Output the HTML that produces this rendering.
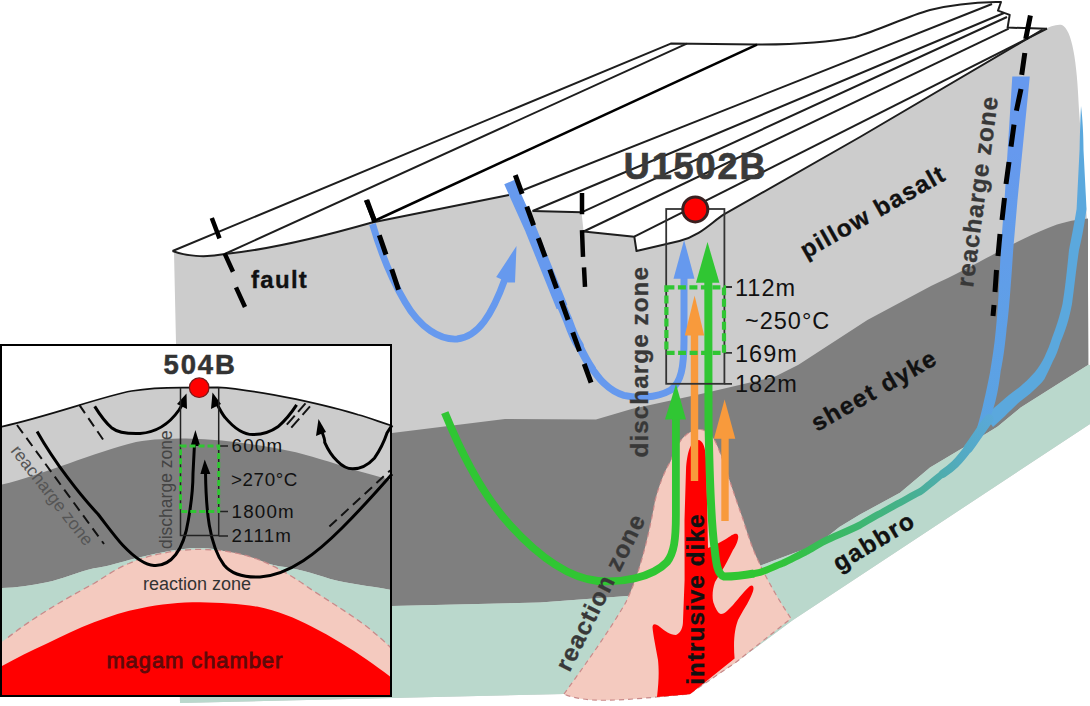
<!DOCTYPE html>
<html><head><meta charset="utf-8">
<style>
html,body{margin:0;padding:0;background:#fff;width:1090px;height:706px;overflow:hidden;}
svg{display:block;}
text{font-family:"Liberation Sans",sans-serif;}
</style></head><body>
<svg width="1090" height="706" viewBox="0 0 1090 706">
<defs>
<linearGradient id="gb" gradientUnits="userSpaceOnUse" x1="1000" y1="408" x2="770" y2="568">
<stop offset="0" stop-color="#5ba8dd"/>
<stop offset="0.2" stop-color="#54aac4"/>
<stop offset="0.45" stop-color="#47b08f"/>
<stop offset="0.75" stop-color="#3ab962"/>
<stop offset="1" stop-color="#30c633"/>
</linearGradient>
<linearGradient id="gi" gradientUnits="userSpaceOnUse" x1="0" y1="150" x2="0" y2="420">
<stop offset="0" stop-color="#6699ee"/>
<stop offset="1" stop-color="#5aa3e2"/>
</linearGradient>
</defs>

<!-- ===== MAIN BLOCK ===== -->
<!-- light gray body -->
<path id="body" fill="#cccccc" d="M174,252 C190,256 210,257 225,254 C255,251 300,243 372,222.5 L509,195 L520,211 L581.5,212.3 L583.6,231.5 L634.3,236.7 L636.5,251 L679.4,241 C700,236 712,222 723.5,214.7 L860,137 L1042.6,29.7 C1050,27 1056,24 1062,25 C1072,30 1077,60 1079,110 L1087,220 L1090,424 L793,620 L735,663 L689,694 L657,697 L592,700 L564,694 L392,698 L180,703 L176,343 Z"/>
<!-- dark gray -->
<path fill="#7f7f7f" d="M176,452 L392,433 L505,419 L596,419.6 L631.6,409 L703,393.4 L774.7,376.7 L798.5,364.8 L867.4,320 L931,286 C955,275 975,264 997.6,252.3 C1015,243 1030,235 1048,228 C1060,223 1072,220 1088,218.5 L1088,365 L1065,379.5 L1020.7,407.5 L997.7,426.6 L964.4,447 L930,467.5 L900,492.8 L860,514.5 L839.4,527 L816.7,545.1 L794,553 L762,565 L700,590 L627,596 L540,602.4 L392,606 L178,612 Z"/>
<!-- teal -->
<path fill="#bad8cc" d="M178,612 L392,606 L540,602.4 L627,596 L700,590 L762,565 L794,553 L816.7,545.1 L839.4,527 L860,514.5 L900,492.8 L930,467.5 L964.4,447 L997.7,426.6 L1020.7,407.5 L1065,379.5 L1088,365 L1090,365 L1090,424 L793,620 L735,663 L689,694 L657,697 L592,700 L564,694 L392,698 L180,703 Z"/>

<!-- pink reaction zone -->
<path fill="#f4cabf" stroke="#c98a8a" stroke-width="1.2" stroke-dasharray="5,4" d="M564,694 C585,665 610,630 626,602 C639,575 648,540 655,501 C659,485 665,470 670.5,461.4 C674,452 677,445 682,439 C688,432 694,429.5 700.8,429.5 C706,430 710,434 713.2,438 C717,444 719,450 721,455.2 C728,475 736,500 742.9,519 C748,535 752,548 758.8,562 C768,582 780,602 791,618.5 L735,663 L689,694 L657,697 C635,699 610,701 592,700 C580,699 570,697 564,694 Z"/>

<!-- red dike -->
<path fill="#ff0000" d="M698,440 C703,440 705.5,448 706,458 L707,500 L708,548 C714,546 720,542 726,539 C731,536 734,533 737,534 C740,536 737,544 733,550 C729,558 725,566 721,572 L715,582 C712,590 712,600 714,604 C716,610 719,614 721,614 C725,614 729,609 733,605 C739,598 745,590 750,586 C753,584 755,587 752,594 C749,602 742,612 738,620 C735,628 733,640 734.6,658.6 L690,694.3 L657,697 C659,680 659,670 658,660 C656,648 653,635 652.5,627 C653,623 656,624 660,627 C665,631 670,635 676,635 C681,633 683,627 683,621 L684.6,580 L684.5,520 L686,470 C687,452 691,440 698,440 Z"/>

<!-- ===== TOP SURFACE LINES ===== -->
<g fill="none" stroke="#1e1e1e" stroke-width="2" stroke-linejoin="round">
<path d="M172.6,251 L670.8,43.6 L757,44.6 C800,44.5 830,42 855,37 C880,30 905,17 930,10 C950,5 975,2.5 996,2 L1001,2 L998,10.6 L1009.7,14.9 L1007.6,27.6 L1047,28.7"/>
<path d="M172.6,251 C185,256 205,258 225,254 C255,251 300,243 372,222.5 L509,195"/>
<path d="M224.7,254 L686.8,43.6"/>
<path d="M372,222 L757,44.6" stroke="#000" stroke-width="2.5"/>
<path d="M523.3,190 L992,4"/>
<path d="M532.6,211 L1004,13"/>
<path d="M532.6,211 L581.5,212.3"/>
<path d="M581.5,212.3 L1007,17"/>
<path d="M583.6,231.5 L1008.7,28.7"/>
<path d="M583.6,231.5 L634.3,236.7 L636.5,251 L679.4,241 C700,236 712,222 723.5,214.7 L860,137 L1042.6,29.7"/>
<path d="M634.3,236.7 L1047,28.7"/>
</g>

<!-- fault dashes (black) -->
<g stroke="#000" stroke-width="4.5" fill="none">
<path d="M211.8,218 L219.5,238.4 M224.6,253.4 L233,271.8 M236,287.4 L245,307"/>
<path d="M366,200 L374.8,221.4"/>
<path d="M582,193 L582,214.3 M582,230.2 L583,256.8 M584,267.4 L585,286.9"/>
</g>

<!-- blue U arrow 1 -->
<g fill="none" stroke="#6699ee" stroke-width="6.8">
<path d="M372.5,224 C380,250 392,280 405,302 C420,328 440,340 457,339 C478,337 492,315 505,279"/>
</g>
<path fill="#6699ee" d="M516.5,245.9 L496.2,277.1 L500.6,279 L508,282.5 L515,282.5 Z"/>
<g stroke="#000" stroke-width="5" fill="none">
<path d="M366.8,200.2 L374.7,221.7 M379.3,235.3 L386,254.6 M391.7,269.3 L398.5,289.7"/>
</g>
<!-- blue long curve 2 -->
<path fill="none" stroke="#6699ee" stroke-width="11.5" d="M509.5,182 L531,230 L562,307"/><path fill="none" stroke="#6699ee" stroke-width="9.5" stroke-linecap="round" d="M560,302 L567.7,320 C572,332 575,340 579.1,345.5"/><path fill="none" stroke="#6699ee" stroke-width="8" stroke-linecap="round" d="M579.1,345.5 C584,356 588,363 591.9,368.5"/>
<g fill="none" stroke="#6699ee" stroke-width="7">
<path d="M591.9,368.5 C596,374 600,380 604.6,383.8 C610,389 616,393 623.8,395.3 C635,398 655,399 671,390 C681,382 684,368 684,340 L684,272"/>
</g>
<path fill="#6699ee" d="M684.1,239.9 L673.5,278.8 L694.5,278.8 Z"/>
<g stroke="#000" stroke-width="5" fill="none" stroke-dasharray="20,13.5">
<path d="M515.3,175.1 L593.5,389.4"/>
</g>
<!-- right recharge blue bands -->
<path fill="#5ba8dd" d="M1081,106 C1082.5,118 1083.5,135 1083.5,150 L1086.5,209 C1084,228 1081,242 1079,250 C1076,270 1074,290 1072,304 C1069,320 1065,332 1060.5,342 C1058,350 1056,356 1053,361 C1050,368 1047,374 1044.5,379 C1041,384 1037,387 1033.5,390.5 C1029,395 1024,398 1019.5,402 C1014,407 1009,412 1005,416 L993,427 L985,416 C989,412 992,410 995,407 C1000,403 1004,399 1009,395 C1014,391 1019,388 1023,384 C1028,380 1031,376 1035,372 C1039,367 1042,362 1044.5,357 C1047,351 1050,345 1052,338 C1056,328 1060,315 1062.5,304 C1065,290 1067,270 1069,250 C1071,240 1074,225 1076.6,209 L1079.6,149 C1080,130 1080.5,115 1081,106 Z"/>
<path fill="url(#gi)" d="M1012.3,76.4 L1029.8,76.4 L1017.5,200 L1013.2,250 C1010,300 1008,320 1006.5,330 C1004,355 1002,365 1000.5,372.5 C999,385 997,395 995.5,401 C993,410 991,416 989,421 L977,428 C980,418 982,410 984,400.8 C986,392 988,383 990,372.5 C992,360 994.5,345 995.8,330 C998,310 999.5,280 1000.7,250 L1004.5,200 Z"/>
<path fill="none" stroke="#30c633" stroke-width="8" stroke-linejoin="round" d="M708.3,272 L708.5,420 C709.5,480 711.5,525 714.5,548 C716,562 717,574 724,576.5 C735,576.5 746,575 754,573.5"/>
<path fill="none" stroke="url(#gb)" stroke-width="7" stroke-linejoin="round" d="M752,574 C756,573 758,573 760,572.4 C768,570 775,566 782.7,563.3 C790,560 797,556 805.4,552 C813,548 820,543 828,539.5 C838,535 850,530 860,525 C867,521 873,517 880,513.6 C887,510 893,506 900,502.7 C907,499 913,495 920,491.8 C923,490 926,487 930,484 C934,481 938,477 942.7,473.9 C947,471 951,468 955.5,463.7 C960,459 964,454 968.2,448.4 C974,440 980,430 987,422"/>
<path fill="none" stroke="url(#gb)" stroke-width="9.5" stroke-linecap="round" d="M989,419 C982,428 976,438 968.2,448.4"/>
<path fill="none" stroke="url(#gb)" stroke-width="8.3" stroke-linecap="round" d="M968.2,448.4 C964,454 960,459 955.5,463.7 C951,468 947,471 942.7,473.9"/>
<!-- recharge fault dashes -->
<g stroke="#000" stroke-width="5" fill="none">
<path d="M1030.4,15.6 L1025.7,39 M1024.8,53 L1021.7,74.8 M1021,88.9 L1016.4,110.7 M1014,124.7 L1011,146.6 M1009,162 L1006,184 M1004.5,198 L1002,220 M1000,234 L998,256 M996.5,270 L995,292 M994,305 L993,316"/>
</g>

<!-- green paths -->
<g fill="none" stroke="#30c633" stroke-width="7.8" stroke-linecap="butt">
<path d="M444.8,412.6 C460,450 480,492 510,525 C540,558 570,578 597.7,581 C620,583 652,578 667,562 C674,553 675.9,540 675.9,515 L675.9,415"/>
</g>
<path fill="#30c633" d="M676,384 L665,419.6 L686,419.6 Z"/>
<path fill="#30c633" d="M707.5,242 L696,282.7 L719.4,282.7 Z"/>
<!-- orange arrows -->
<g fill="none" stroke="#f89a3c" stroke-width="7.4">
<path d="M694.5,330 L694.5,481"/>
<path d="M725,436 L725,521"/>
</g>
<path fill="#f89a3c" d="M694.6,295.5 L684.8,335.5 L704.2,335.5 Z"/>
<path fill="#f89a3c" d="M724.6,399.4 L713.9,438.7 L735.3,438.7 Z"/>

<!-- well rectangle -->
<rect x="666.2" y="209" width="58.2" height="174.8" fill="none" stroke="#333" stroke-width="1.8"/>
<g stroke="#333" stroke-width="1.8"><path d="M724.4,287 L732,287 M724.4,352.9 L732,352.9 M724.4,383.8 L732,383.8"/></g>
<!-- green dashed rect -->
<rect x="666.4" y="287.4" width="57.6" height="65.5" fill="none" stroke="#30c633" stroke-width="4.2" stroke-dasharray="8,3.5"/>
<!-- red circle -->
<circle cx="695.3" cy="209.4" r="12.5" fill="#ff0000" stroke="#3a2020" stroke-width="3"/>

<!-- labels main -->
<g font-family="Liberation Sans" fill="#3a3a3a" font-weight="bold">
<text x="623.8" y="179" font-size="36" letter-spacing="1.9" stroke="#3a3a3a" stroke-width="0.7">U1502B</text>
</g>
<g font-family="Liberation Sans" fill="#111" font-size="23.5" letter-spacing="1">
<text x="735" y="296">112m</text>
<text x="745" y="329">~250°C</text>
<text x="735" y="361.5">169m</text>
<text x="735" y="392">182m</text>
</g>
<g font-family="Liberation Sans" font-weight="bold" font-size="24" fill="#111" stroke="#111" stroke-width="0.35">
<text x="251" y="288" letter-spacing="1.3">fault</text>
<text transform="translate(806,259) rotate(-29.5)" font-size="24.3" letter-spacing="1.3">pillow basalt</text>
<text transform="translate(817,432) rotate(-29.5)" font-size="24.3" letter-spacing="1.5">sheet dyke</text>
<text transform="translate(839,572) rotate(-31)" font-size="24.3" letter-spacing="1.5">gabbro</text>
<text transform="translate(703.5,684.8) rotate(-90)" font-size="24.3" letter-spacing="1.05">intrusive dike</text>
</g>
<g font-family="Liberation Sans" font-weight="bold" font-size="25" fill="#383838" stroke="#383838" stroke-width="0.3">
<text transform="translate(647.5,457.5) rotate(-90)" font-size="24.3" letter-spacing="1.05">discharge zone</text>
<text transform="translate(569.5,673) rotate(-63.5)" font-size="24.3" letter-spacing="1.2">reaction zone</text>
<text transform="translate(973,288) rotate(-82.5)" font-size="24.3" letter-spacing="1.05">reacharge zone</text>
</g>

<!-- ===== INSET ===== -->
<g>
<rect x="1" y="345" width="390" height="351" fill="#fff"/>
<clipPath id="ic"><rect x="2" y="346" width="388" height="349"/></clipPath>
<g clip-path="url(#ic)">
<path fill="#cccccc" d="M0,427 C50,416 100,397 131.5,391 C150,388 165,387.6 181.4,387.6 L218,387.4 C245,389 270,394 295.9,399.2 C318,404 340,409 358.2,414.8 C370,418 380,422 392,425.7 L392,700 L0,700 Z"/>
<path fill="#7f7f7f" d="M0,485 C40,476 95,452 136,442 C152,439 170,438.5 186,438.5 C225,439 260,445 295.9,452.2 C318,458 340,465 358.2,471 C370,474 382,478 392,480.3 L392,590 C370,586 350,584 330.3,579 C312,573 295,568 278.9,566.2 C250,560 225,548 200,548 C175,548 150,555 129,560 C115,564 104,567 94,568.2 C78,572 62,579 47,582.3 C30,586 15,588 0,588 Z"/>
<path fill="#bad8cc" d="M0,588 C15,588 30,586 47,582.3 C62,579 78,572 94,568.2 C104,567 115,564 129,560 C150,555 175,548 200,548 C225,548 250,560 278.9,566.2 C295,568 312,573 330.3,579 C350,584 370,586 392,590 L392,700 L0,700 Z"/>
<path fill="#f4cabf" d="M0,643 L8,637.5 C20,628 33,619 47,610.5 C62,601 78,592 94,583.5 C106,576 117,568 129,563.5 C142,558 152,555 164.5,553 C176,550.5 188,549.4 200,549.4 C222,549.6 240,553 257,559 C278,567 295,578 312,590 C332,603 350,614 367,626.8 C376,634 384,641 392,649 L392,700 L0,700 Z"/>
<path fill="none" stroke="#c98a8a" stroke-width="1.3" stroke-dasharray="6,4" d="M8,637.5 C20,628 33,619 47,610.5 C62,601 78,592 94,583.5 C106,576 117,568 129,563.5 C142,558 152,555 164.5,553 C176,550.5 188,549.4 200,549.4 C222,549.6 240,553 257,559 C278,567 295,578 312,590 C332,603 350,614 367,626.8 C376,634 384,641 392,649"/>
<path fill="#ff0000" d="M0,667 C15,659 30,651 47,643.4 C63,636 78,628 94,622.3 C110,616 125,611 141,608.2 C160,604 180,602.3 200,602.3 C220,602.5 240,604 257,606.6 C278,611 295,618 312,626.8 C332,637 350,648 367,659.8 C376,666 384,672 392,678 L392,700 L0,700 Z"/>
<path fill="none" stroke="#111" stroke-width="1.7" d="M0,427 C50,416 100,397 131.5,391 C150,388 165,387.6 181.4,387.6 L218,387.4 C245,389 270,394 295.9,399.2 C318,404 340,409 358.2,414.8 C370,418 380,422 392,425.7"/>
</g>
<!-- inset arrows -->
<g fill="none" stroke="#000" stroke-width="3">
<path d="M37.1,431.4 C55,463 80,495 97.9,514 C108,527 116,538 122.8,545.2 C135,558 145,565 154,565.4 C163,566 170,562 175.8,554.5 C183,545 186,535 188.3,520.2 C191,505 193,490 193,473.5 L194.5,444"/>
<path d="M205.5,472 C206,510 209,545 224,565 C233,576 248,577.5 260,577 C290,575 318,552 342,528 C362,508 378,490 392,474"/>

<path d="M94.7,406.4 C100,415 105,422 111.5,427.7 C117,432 125,434 140,433.5 C160,432 172,420 179,410 L184,402"/>
<path d="M216,402 C220,410 222,414 225,417.4 C233,427 243,434.6 253,434.6 C263,434.6 272,431 277.9,426.8 C286,420 292,412 296.6,404.9"/>
<path d="M322,432 C324,437 325,440 324.7,442.3 C329,452 333,457 337.2,461 C342,466 347,468.8 352.7,468.8 C361,468.8 368,465 374.6,457.9 C380,450 384,442 387,433 L392,425.2"/>
</g>
<g fill="#000">
<path d="M195.4,429.9 L190.6,446 L200.2,446 Z"/>
<path d="M204.7,459.5 L200.4,474 L210.4,474 Z"/>
<path d="M186.5,393.5 L177,404 L187,409 Z"/>
<path d="M212.5,392.5 L211,409 L221,404 Z"/>
<path d="M318.5,419 L316,436 L326,432 Z"/>
</g>
<g fill="none" stroke="#111" stroke-width="2" stroke-dasharray="10,6">
<path d="M17,425 L104,544"/>
<path d="M79.3,404.9 L106.1,444"/>
<path d="M329.4,526.5 L390.2,470.4"/>
</g>
<g fill="none" stroke="#111" stroke-width="2" stroke-dasharray="12,5">
<path d="M286.8,424.6 L305.5,403.4"/>
<path d="M291.3,427.6 L310,406.4"/>
</g>
<!-- inset well -->
<g stroke="#222" stroke-width="1.5" fill="none">
<path d="M180.5,387.4 L180.5,535.5 L218.7,535.5 L218.7,387.4"/>
<path d="M218.7,446.1 L228,446.1 M218.7,511.5 L228,511.5 M218.7,536 L228,536"/>
</g>
<rect x="180.5" y="446.1" width="38.2" height="65.4" fill="none" stroke="#30c633" stroke-width="3" stroke-dasharray="6,3"/>
<circle cx="199.2" cy="387.7" r="9.8" fill="#ff0000" stroke="#7a1a1a" stroke-width="1.2"/>
<g font-family="Liberation Sans" fill="#111" font-size="18.8" letter-spacing="1.2">
<text x="231.5" y="452.2">600m</text>
<text x="231" y="485.7" letter-spacing="0.6">&gt;270°C</text>
<text x="231.5" y="518">1800m</text>
<text x="231.5" y="542.4">2111m</text>
</g>
<text x="163.6" y="373.6" font-family="Liberation Sans" font-weight="bold" font-size="27.5" fill="#333" stroke="#333" stroke-width="0.5" letter-spacing="1.8">504B</text>
<text x="143" y="590" font-family="Liberation Sans" font-size="18" fill="#333">reaction zone</text>
<text x="106.4" y="667.8" font-family="Liberation Sans" font-size="22" fill="#5e0a0a" stroke="#5e0a0a" stroke-width="0.8" letter-spacing="0.9">magam chamber</text>
<text transform="translate(172,549) rotate(-90)" font-family="Liberation Sans" font-size="17.5" fill="#444">discharge zone</text>
<text transform="translate(10,451) rotate(52)" font-family="Liberation Sans" font-size="17.5" fill="#555">reacharge zone</text>
<rect x="1" y="345" width="390" height="351" fill="none" stroke="#000" stroke-width="2"/>
</g>
</svg>
</body></html>
